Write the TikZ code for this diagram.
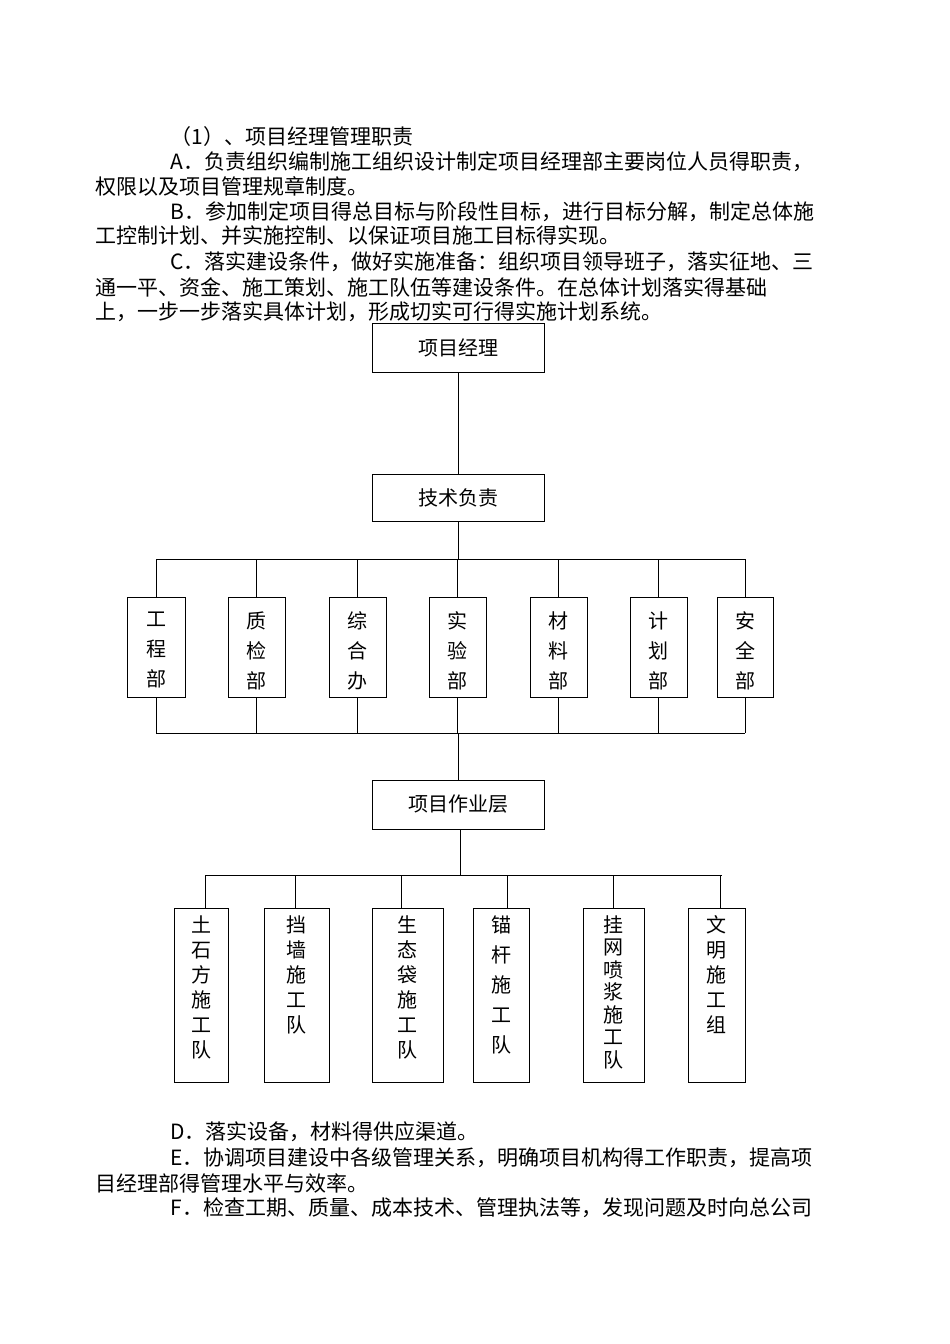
\documentclass[tikz,border=0pt]{standalone}
\usepackage{fontspec}
\setmainfont{Noto Sans CJK SC}
\XeTeXinterchartoks 1 1 = {\hskip0pt plus 6pt\relax}
\XeTeXinterchartoks 1 2 = {\hskip0pt plus 6pt\relax}
\XeTeXinterchartoks 1 3 = {\hskip0pt plus 6pt\relax}
\XeTeXinterchartoks 3 1 = {\hskip0pt plus 6pt\relax}
\XeTeXinterchartoks 2 1 = {\hskip0pt plus 6pt\relax}
\XeTeXinterchartoks 3 2 = {\hskip0pt plus 6pt\relax}
\XeTeXinterchartoks 3 3 = {\hskip0pt plus 6pt\relax}
\XeTeXinterchartoks 0 1 = {\hskip0pt plus 6pt\relax}
\XeTeXinterchartoks 0 3 = {\hskip0pt plus 6pt\relax}
\newcommand{\fullline}[2]{{\XeTeXinterchartokenstate=1 \hbox to #1pt{#2}}}
\begin{document}
\begin{tikzpicture}[x=1pt,y=-1pt,line width=1pt,
  txt/.style={anchor=west,inner sep=0pt,font=\fontsize{21}{24}\selectfont},
  hbox/.style={draw,minimum width=172pt,minimum height=49pt,inner sep=0pt,font=\fontsize{20}{24}\selectfont},
  vbox/.style={draw,inner sep=0pt,anchor=north west}]
\useasboundingbox (0,0) rectangle (950,1344);
% paragraphs
\node[txt] (p1) at (170,137) {（1）、项目经理管理职责};
\node[txt] (p2) at (170,162) {\fullline{688}{A．负责组织编制施工组织设计制定项目经理部主要岗位人员得职责，}};
\node[txt] (p3) at (95,186) {权限以及项目管理规章制度。};
\node[txt] (p4) at (170,212) {\fullline{688}{B．参加制定项目得总目标与阶段性目标，进行目标分解，制定总体施}};
\node[txt] (p5) at (95,236) {工控制计划、并实施控制、以保证项目施工目标得实现。};
\node[txt] (p6) at (170,262) {\fullline{688}{C．落实建设条件，做好实施准备：组织项目领导班子，落实征地、三}};
\node[txt] (p7) at (95,287) {\fullline{763}{通一平、资金、施工策划、施工队伍等建设条件。在总体计划落实得基础}};
\node[txt] (p8) at (95,312) {上，一步一步落实具体计划，形成切实可行得实施计划系统。};
\node[txt] (q1) at (170,1132) {D．落实设备，材料得供应渠道。};
\node[txt] (q2) at (170,1158) {\fullline{688}{E．协调项目建设中各级管理关系，明确项目机构得工作职责，提高项}};
\node[txt] (q3) at (95,1183) {目经理部得管理水平与效率。};
\node[txt] (q4) at (170,1208) {\fullline{688}{F．检查工期、质量、成本技术、管理执法等，发现问题及时向总公司}};
% top boxes
\node[hbox] (pm) at (458,348) {项目经理};
\node[hbox,minimum height=47pt] (tech) at (458,497.5) {技术负责};
\node[hbox] (work) at (458,804.5) {项目作业层};
\draw (pm.south) -- (tech.north);
\coordinate (busT) at (458,559);
\draw (tech.south) -- (busT);
\draw (156,559) -- (745,559);
\draw (156,733) -- (745,733);
% departments
\foreach \n/\xl/\xr/\t in {d1/127/185/{工\\程\\部},d2/228/285/{质\\检\\部},d3/329/386/{综\\合\\办},d4/429/486/{实\\验\\部},d5/530/587/{材\\料\\部},d6/630/687/{计\\划\\部},d7/717/773/{安\\全\\部}}{
  \draw (\xl,597) rectangle (\xr,697);
  \node[anchor=north,inner sep=0pt,align=center,font=\fontsize{20}{30}\selectfont] (\n) at ({(\xl+\xr)/2},611) {\t};
  \draw ({(\xl+\xr)/2},597) -- ({(\xl+\xr)/2},559);
  \draw ({(\xl+\xr)/2},697) -- ({(\xl+\xr)/2},733);
}
\coordinate (busB) at (458,733);
\draw (busB) -- (work.north);
\coordinate (bus2) at (460,875);
\draw (work.south -| bus2) -- (bus2);
\draw (205,875) -- (722,875);
% teams
\foreach \n/\xl/\xr/\lx/\sp/\t in {t1/174/228/205/25/{土\\石\\方\\施\\工\\队},t2/264/329/295/25/{挡\\墙\\施\\工\\队},t3/372/443/401/25/{生\\态\\袋\\施\\工\\队},t4/473/529/507/30/{锚\\杆\\施\\工\\队},t5/583/644/613/22.5/{挂\\网\\喷\\浆\\施\\工\\队},t6/688/745/720/25/{文\\明\\施\\工\\组}}{
  \draw (\xl,908) rectangle (\xr,1082);
  \node[anchor=north,inner sep=0pt,align=center,font=\fontsize{20}{\sp}\selectfont] (\n) at ({(\xl+\xr)/2},915) {\t};
  \draw (\lx,875) -- (\lx,908);
}
\end{tikzpicture}
\end{document}
